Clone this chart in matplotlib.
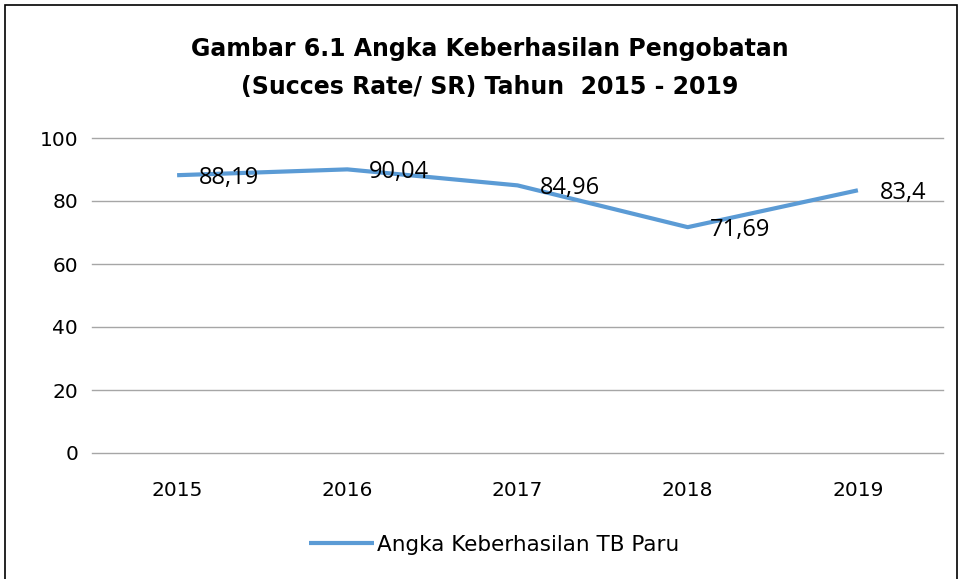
import matplotlib
matplotlib.use("Agg")
import matplotlib.pyplot as plt
from matplotlib.patches import Rectangle

years = ["2015", "2016", "2017", "2018", "2019"]
values = [88.19, 90.04, 84.96, 71.69, 83.4]
labels = ["88,19", "90,04", "84,96", "71,69", "83,4"]
series_name = "Angka Keberhasilan TB Paru"
title = "Gambar 6.1 Angka Keberhasilan Pengobatan\n(Succes Rate/ SR) Tahun  2015 - 2019"

plt.rcParams['font.family'] = ['DejaVu Sans']

W, H = 963, 579
fig = plt.figure(figsize=(W/100, H/100), dpi=100)
ax = fig.add_axes([92/W, 1-453/H, (943-92)/W, (453-138)/H])

color = "#5B9BD5"
x = list(range(len(years)))
ax.plot(x, values, color=color, lw=3, solid_capstyle='butt', label=series_name, zorder=3)
for xi, v, l in zip(x, values, labels):
    ax.annotate(l, (xi, v), xytext=(22, -3), textcoords='offset pixels',
                ha='left', va='center', fontsize=17, family='Open Sans', color='black', zorder=4)

ax.set_xlim(-0.5, len(years)-0.5)
ax.set_ylim(0, 100)
ax.set_yticks([0, 20, 40, 60, 80, 100])
ax.set_xticks(x)
ax.set_xticklabels(years)
ax.tick_params(axis='both', length=0, labelsize=14.5, colors='black')
ax.tick_params(axis='x', pad=20)
ax.tick_params(axis='y', pad=10)
for gy in [0, 20, 40, 60, 80, 100]:
    ax.axhline(gy, color='#A6A6A6', lw=1, zorder=1, clip_on=False)
for s in ax.spines.values():
    s.set_visible(False)

fig.text(490/W, 1-68/H, title, ha='center', va='center', fontsize=17, fontweight='bold',
         linespacing=1.75)

leg = fig.legend(loc='center', bbox_to_anchor=(494/W, 1-545/H), frameon=False, fontsize=15.5,
                 handlelength=3.0, handletextpad=0.15)

fig.patches.append(Rectangle((5/W, -0.1), (957-5)/W, 1+0.1-5/H, transform=fig.transFigure,
                             fill=False, edgecolor='black', lw=1.2))

fig.savefig("out.png", dpi=100)
